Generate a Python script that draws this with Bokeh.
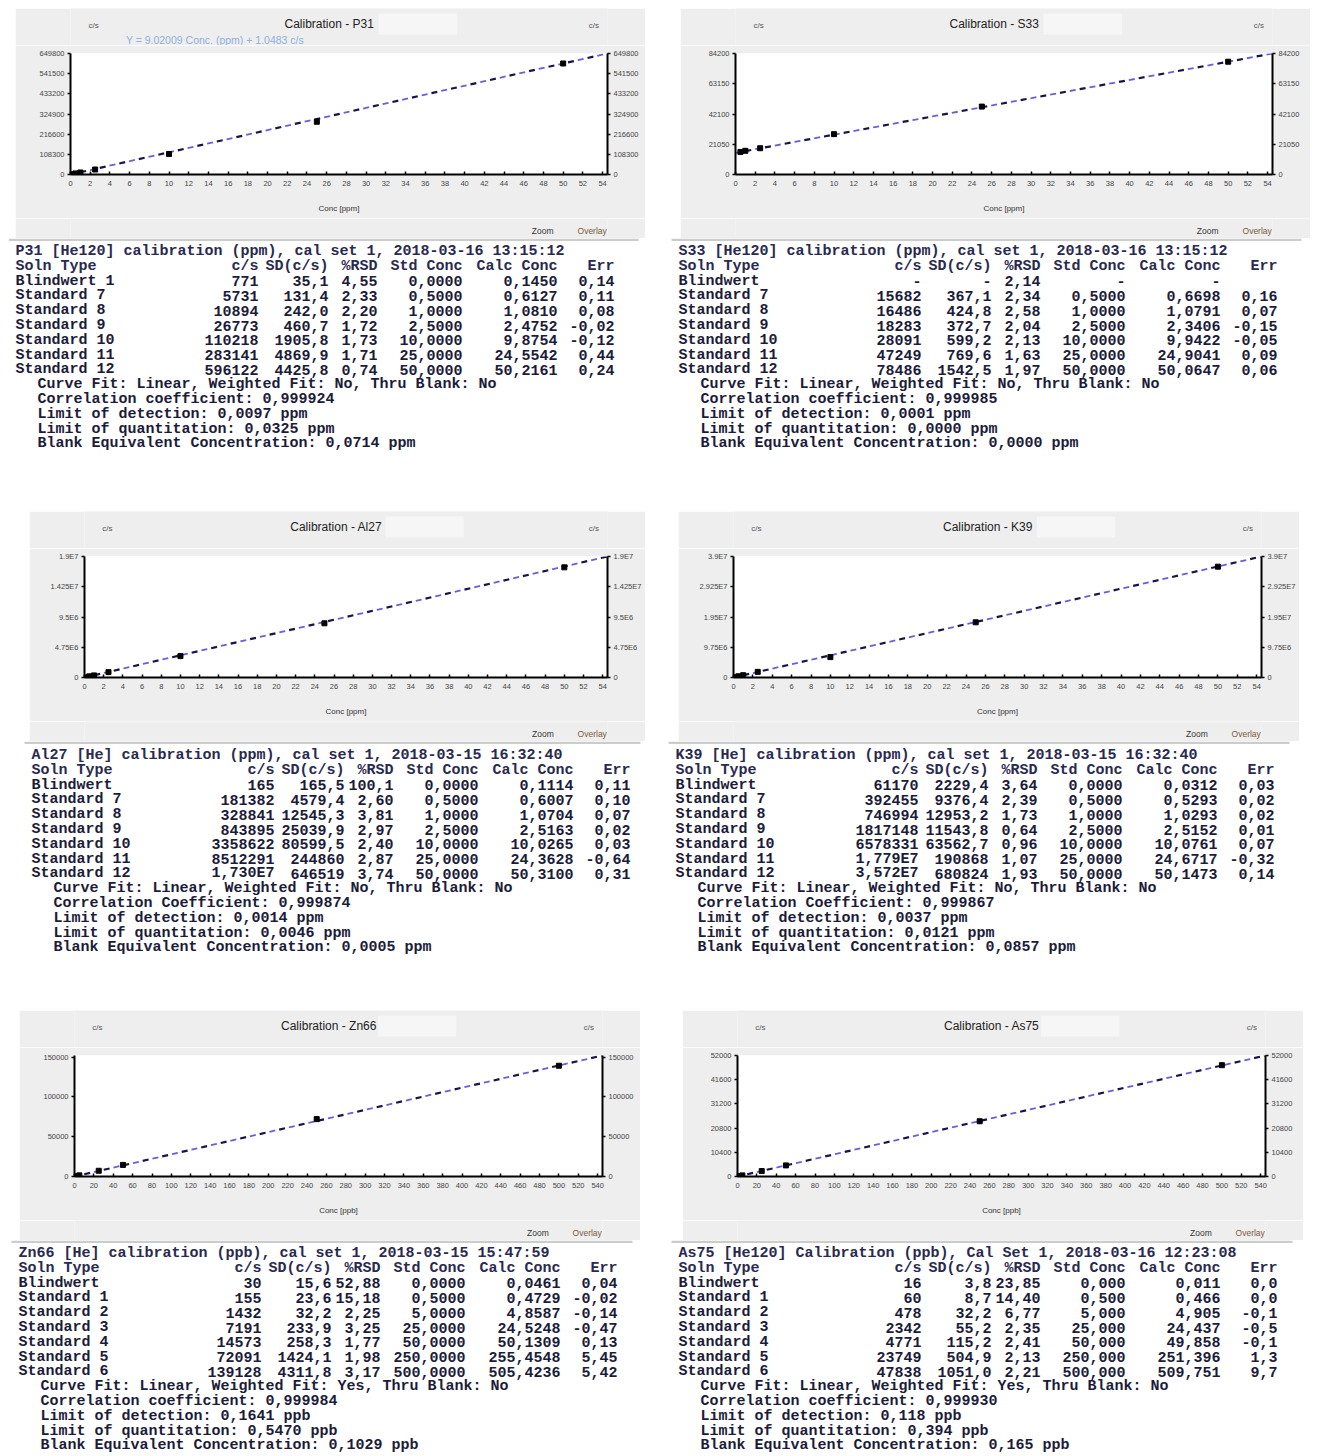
from bokeh.plotting import figure
from bokeh.models import Range1d, LinearAxis, FixedTicker, Spacer, BoxAnnotation
from bokeh.layouts import column, row
from bokeh.embed import file_html
from bokeh.resources import INLINE
from bokeh.core.properties import value

# ---------------- data ----------------
X_TICKS_PPM = list(range(0, 55, 2))
X_TICKS_PPB = list(range(0, 550, 20))
HEADER = ["Soln Type", "c/s", "SD(c/s)", "%RSD", "Std Conc", "Calc Conc", "Err"]

# P31
p31_conc = [0, 0.5, 1.0, 2.5, 10, 25, 50]
p31_cps = [771, 5731, 10894, 26773, 110218, 283141, 596122]
p31_fit_x = [0, 54.5]
p31_fit_y = [0, 649800]
p31_yticks = [0, 108300, 216600, 324900, 433200, 541500, 649800]
p31_ylabels = ["0", "108300", "216600", "324900", "433200", "541500", "649800"]
p31_head = "P31 [He120] calibration (ppm), cal set 1, 2018-03-16 13:15:12"
p31_types = ["Blindwert 1", "Standard 7", "Standard 8", "Standard 9", "Standard 10", "Standard 11", "Standard 12"]
p31_cps_t = ["771", "5731", "10894", "26773", "110218", "283141", "596122"]
p31_sd = ["35,1", "131,4", "242,0", "460,7", "1905,8", "4869,9", "4425,8"]
p31_rsd = ["4,55", "2,33", "2,20", "1,72", "1,73", "1,71", "0,74"]
p31_std = ["0,0000", "0,5000", "1,0000", "2,5000", "10,0000", "25,0000", "50,0000"]
p31_calc = ["0,1450", "0,6127", "1,0810", "2,4752", "9,8754", "24,5542", "50,2161"]
p31_err = ["0,14", "0,11", "0,08", "-0,02", "-0,12", "0,44", "0,24"]
p31_foot = ["Curve Fit: Linear, Weighted Fit: No, Thru Blank: No",
            "Correlation coefficient: 0,999924",
            "Limit of detection: 0,0097 ppm",
            "Limit of quantitation: 0,0325 ppm",
            "Blank Equivalent Concentration: 0,0714 ppm"]
p31_eq = "Y = 9.02009 Conc. (ppm) + 1.0483 c/s"

# S33
s33_conc = [0.5, 1.0, 2.5, 10, 25, 50]
s33_cps = [15682, 16486, 18283, 28091, 47249, 78486]
s33_fit_x = [0, 54.5]
s33_fit_y = [15048, 84200]
s33_yticks = [0, 21050, 42100, 63150, 84200]
s33_ylabels = ["0", "21050", "42100", "63150", "84200"]
s33_head = "S33 [He120] calibration (ppm), cal set 1, 2018-03-16 13:15:12"
s33_types = ["Blindwert", "Standard 7", "Standard 8", "Standard 9", "Standard 10", "Standard 11", "Standard 12"]
s33_cps_t = ["-", "15682", "16486", "18283", "28091", "47249", "78486"]
s33_sd = ["-", "367,1", "424,8", "372,7", "599,2", "769,6", "1542,5"]
s33_rsd = ["2,14", "2,34", "2,58", "2,04", "2,13", "1,63", "1,97"]
s33_std = ["-", "0,5000", "1,0000", "2,5000", "10,0000", "25,0000", "50,0000"]
s33_calc = ["-", "0,6698", "1,0791", "2,3406", "9,9422", "24,9041", "50,0647"]
s33_err = ["", "0,16", "0,07", "-0,15", "-0,05", "0,09", "0,06"]
s33_foot = ["Curve Fit: Linear, Weighted Fit: No, Thru Blank: No",
            "Correlation coefficient: 0,999985",
            "Limit of detection: 0,0001 ppm",
            "Limit of quantitation: 0,0000 ppm",
            "Blank Equivalent Concentration: 0,0000 ppm"]

# Al27
al27_conc = [0, 0.5, 1.0, 2.5, 10, 25, 50]
al27_cps = [165, 181382, 328841, 843895, 3358622, 8512291, 17300000]
al27_fit_x = [0, 54.5]
al27_fit_y = [0, 19000000]
al27_yticks = [0, 4750000, 9500000, 14250000, 19000000]
al27_ylabels = ["0", "4.75E6", "9.5E6", "1.425E7", "1.9E7"]
al27_head = "Al27 [He] calibration (ppm), cal set 1, 2018-03-15 16:32:40"
al27_types = ["Blindwert", "Standard 7", "Standard 8", "Standard 9", "Standard 10", "Standard 11", "Standard 12"]
al27_cps_t = ["165", "181382", "328841", "843895", "3358622", "8512291", "1,730E7"]
al27_sd = ["165,5", "4579,4", "12545,3", "25039,9", "80599,5", "244860", "646519"]
al27_rsd = ["100,1", "2,60", "3,81", "2,97", "2,40", "2,87", "3,74"]
al27_std = ["0,0000", "0,5000", "1,0000", "2,5000", "10,0000", "25,0000", "50,0000"]
al27_calc = ["0,1114", "0,6007", "1,0704", "2,5163", "10,0265", "24,3628", "50,3100"]
al27_err = ["0,11", "0,10", "0,07", "0,02", "0,03", "-0,64", "0,31"]
al27_foot = ["Curve Fit: Linear, Weighted Fit: No, Thru Blank: No",
             "Correlation Coefficient: 0,999874",
             "Limit of detection: 0,0014 ppm",
             "Limit of quantitation: 0,0046 ppm",
             "Blank Equivalent Concentration: 0,0005 ppm"]

# K39
k39_conc = [0, 0.5, 1.0, 2.5, 10, 25, 50]
k39_cps = [61170, 392455, 746994, 1817148, 6578331, 17790000, 35720000]
k39_fit_x = [0, 54.5]
k39_fit_y = [0, 39000000]
k39_yticks = [0, 9750000, 19500000, 29250000, 39000000]
k39_ylabels = ["0", "9.75E6", "1.95E7", "2.925E7", "3.9E7"]
k39_head = "K39 [He] calibration (ppm), cal set 1, 2018-03-15 16:32:40"
k39_types = ["Blindwert", "Standard 7", "Standard 8", "Standard 9", "Standard 10", "Standard 11", "Standard 12"]
k39_cps_t = ["61170", "392455", "746994", "1817148", "6578331", "1,779E7", "3,572E7"]
k39_sd = ["2229,4", "9376,4", "12953,2", "11543,8", "63562,7", "190868", "680824"]
k39_rsd = ["3,64", "2,39", "1,73", "0,64", "0,96", "1,07", "1,93"]
k39_std = ["0,0000", "0,5000", "1,0000", "2,5000", "10,0000", "25,0000", "50,0000"]
k39_calc = ["0,0312", "0,5293", "1,0293", "2,5152", "10,0761", "24,6717", "50,1473"]
k39_err = ["0,03", "0,02", "0,02", "0,01", "0,07", "-0,32", "0,14"]
k39_foot = ["Curve Fit: Linear, Weighted Fit: No, Thru Blank: No",
            "Correlation Coefficient: 0,999867",
            "Limit of detection: 0,0037 ppm",
            "Limit of quantitation: 0,0121 ppm",
            "Blank Equivalent Concentration: 0,0857 ppm"]

# Zn66
zn66_conc = [0, 0.5, 5, 25, 50, 250, 500]
zn66_cps = [30, 155, 1432, 7191, 14573, 72091, 139128]
zn66_fit_x = [0, 545]
zn66_fit_y = [0, 152000]
zn66_yticks = [0, 50000, 100000, 150000]
zn66_ylabels = ["0", "50000", "100000", "150000"]
zn66_head = "Zn66 [He] calibration (ppb), cal set 1, 2018-03-15 15:47:59"
zn66_types = ["Blindwert", "Standard 1", "Standard 2", "Standard 3", "Standard 4", "Standard 5", "Standard 6"]
zn66_cps_t = ["30", "155", "1432", "7191", "14573", "72091", "139128"]
zn66_sd = ["15,6", "23,6", "32,2", "233,9", "258,3", "1424,1", "4311,8"]
zn66_rsd = ["52,88", "15,18", "2,25", "3,25", "1,77", "1,98", "3,17"]
zn66_std = ["0,0000", "0,5000", "5,0000", "25,0000", "50,0000", "250,0000", "500,0000"]
zn66_calc = ["0,0461", "0,4729", "4,8587", "24,5248", "50,1309", "255,4548", "505,4236"]
zn66_err = ["0,04", "-0,02", "-0,14", "-0,47", "0,13", "5,45", "5,42"]
zn66_foot = ["Curve Fit: Linear, Weighted Fit: Yes, Thru Blank: No",
             "Correlation coefficient: 0,999984",
             "Limit of detection: 0,1641 ppb",
             "Limit of quantitation: 0,5470 ppb",
             "Blank Equivalent Concentration: 0,1029 ppb"]

# As75
as75_conc = [0, 0.5, 5, 25, 50, 250, 500]
as75_cps = [16, 60, 478, 2342, 4771, 23749, 47838]
as75_fit_x = [0, 545]
as75_fit_y = [0, 52000]
as75_yticks = [0, 10400, 20800, 31200, 41600, 52000]
as75_ylabels = ["0", "10400", "20800", "31200", "41600", "52000"]
as75_head = "As75 [He120] Calibration (ppb), Cal Set 1, 2018-03-16 12:23:08"
as75_types = ["Blindwert", "Standard 1", "Standard 2", "Standard 3", "Standard 4", "Standard 5", "Standard 6"]
as75_cps_t = ["16", "60", "478", "2342", "4771", "23749", "47838"]
as75_sd = ["3,8", "8,7", "32,2", "55,2", "115,2", "504,9", "1051,0"]
as75_rsd = ["23,85", "14,40", "6,77", "2,35", "2,41", "2,13", "2,21"]
as75_std = ["0,000", "0,500", "5,000", "25,000", "50,000", "250,000", "500,000"]
as75_calc = ["0,011", "0,466", "4,905", "24,437", "49,858", "251,396", "509,751"]
as75_err = ["0,0", "0,0", "-0,1", "-0,5", "-0,1", "1,3", "9,7"]
as75_foot = ["Curve Fit: Linear, Weighted Fit: Yes, Thru Blank: No",
             "Correlation coefficient: 0,999930",
             "Limit of detection: 0,118 ppb",
             "Limit of quantitation: 0,394 ppb",
             "Blank Equivalent Concentration: 0,165 ppb"]

# ---------------- styling ----------------
FRAME_BG = "#eeeeee"
SANS = "Liberation Sans"
MONO = "Liberation Mono"
HEAD_H = 37
CHART_H = 173
FOOT_H = 20
PANEL_H = HEAD_H + CHART_H + FOOT_H
BL, BR = 55, 38
COL_RIGHT = [243, 313, 362, 447, 542, 599]
PITCH = 14.8


def blank_fig(width, height, bg):
    p = figure(width=width, height=height, x_range=Range1d(0, width), y_range=Range1d(height, 0),
               toolbar_location=None, output_backend="svg", min_border=0,
               x_axis_type=None, y_axis_type=None, outline_line_color=None,
               background_fill_color=bg, border_fill_color=bg)
    p.grid.visible = False
    return p


def style_axis(ax, ticks, labels=None, is_x=False):
    ax.ticker = FixedTicker(ticks=ticks)
    if labels is not None:
        ax.major_label_overrides = {t: l for t, l in zip(ticks, labels)}
    ax.axis_line_color = "black"
    ax.axis_line_width = 2
    ax.major_tick_line_color = "black"
    ax.major_tick_line_width = 1.5
    ax.minor_tick_line_color = None
    if is_x:
        ax.major_tick_in = 3
        ax.major_tick_out = 0
        ax.major_label_standoff = 6
    else:
        ax.major_tick_in = 0
        ax.major_tick_out = 3
        ax.major_label_standoff = 3
    ax.major_label_text_font = SANS
    ax.major_label_text_font_size = "7.5px"
    ax.major_label_text_color = "#444444"


def sans_text(p, x, y, text, size, color, align="center"):
    p.text(x=[x], y=[y], text=[text], text_font=value(SANS), text_font_size=size,
           text_color=color, text_align=align, text_baseline="middle")


def make_panel(name, unit, conc, cps, fit_x, fit_y, x_ticks, y_ticks, y_labels, width, eq=None):
    plot_w = width - BL - BR
    tcx = BL + plot_w / 2 - 20
    head = blank_fig(width, HEAD_H, FRAME_BG)
    head.add_layout(BoxAnnotation(left=tcx + 58, right=tcx + 150, top=5, bottom=26,
                                  fill_color="#f6f6f6", fill_alpha=1, line_color=None))
    sans_text(head, tcx, 15, f"Calibration - {name}", "12px", "#222222")
    sans_text(head, BL - 28, 17, "c/s", "8px", "#555555")
    sans_text(head, width - BR + 22, 17, "c/s", "8px", "#555555")
    if eq:
        sans_text(head, BL + 10, 31, eq, "10.5px", "#8fb0e0", align="left")

    p = figure(width=width, height=CHART_H,
               x_range=Range1d(fit_x[0], fit_x[-1]), y_range=Range1d(0, fit_y[-1]),
               toolbar_location=None, output_backend="svg",
               min_border_left=BL, min_border_right=BR, min_border_top=8, min_border_bottom=44,
               background_fill_color="white", border_fill_color=FRAME_BG,
               outline_line_color=None)
    p.grid.visible = False
    style_axis(p.xaxis[0], x_ticks, None, is_x=True)
    p.xaxis.axis_label = f"Conc [{unit}]"
    p.xaxis.axis_label_text_font = SANS
    p.xaxis.axis_label_text_font_size = "8px"
    p.xaxis.axis_label_text_font_style = "normal"
    p.xaxis.axis_label_text_color = "#333333"
    p.xaxis.axis_label_standoff = 15
    style_axis(p.yaxis[0], y_ticks, y_labels)
    right = LinearAxis()
    style_axis(right, y_ticks, y_labels)
    p.add_layout(right, "right")

    p.line(fit_x, fit_y, line_color="#6b5de0", line_width=1.8, line_dash="6 14")
    p.line(fit_x, fit_y, line_color="#15154a", line_width=2.2, line_dash="6 14", line_dash_offset=10)
    p.scatter(conc, cps, marker="square", size=5, color="black")

    foot = blank_fig(width, FOOT_H, FRAME_BG)
    sans_text(foot, width - BR - 38, 12, "Zoom", "8.5px", "#333333")
    sans_text(foot, width - BR + 20, 12, "Overlay", "8.5px", "#7a5a3a")
    return column(head, p, foot)


def make_table(width, height, x0, y0, rule_w, head, types, cps_t, sd, rsd, std, calc, err, foot):
    p = blank_fig(width, height, "white")
    p.add_layout(BoxAnnotation(left=x0 - 7, right=x0 - 7 + rule_w, top=0, bottom=2.5,
                               fill_color="#cccccc", fill_alpha=1, line_color=None))
    kw = dict(text_font=value(MONO), text_font_size="15px", text_baseline="middle",
              text_font_style="bold")
    dark = "#1c1c3a"
    p.text(x=[x0], y=[y0], text=[head], text_align="left", text_color="#2a2a50", **kw)
    p.text(x=[x0], y=[y0 + PITCH], text=[HEADER[0]], text_align="left", text_color="#2a2a50", **kw)
    p.text(x=[x0 + c for c in COL_RIGHT], y=[y0 + PITCH] * 6, text=HEADER[1:],
           text_align="right", text_color="#2a2a50", **kw)
    ys = [y0 + (2 + i) * PITCH for i in range(len(types))]
    p.text(x=[x0] * len(types), y=ys, text=types, text_align="left", text_color=dark, **kw)
    for c, col in zip(COL_RIGHT, [cps_t, sd, rsd, std, calc, err]):
        p.text(x=[x0 + c] * len(col), y=ys, text=col, text_align="right", text_color=dark, **kw)
    yf = [y0 + (2 + len(types) + j) * PITCH for j in range(len(foot))]
    p.text(x=[x0 + 22] * len(foot), y=yf, text=foot, text_align="left", text_color=dark, **kw)
    return p


c_p31 = make_panel("P31", "ppm", p31_conc, p31_cps, p31_fit_x, p31_fit_y, X_TICKS_PPM, p31_yticks, p31_ylabels, 630, eq=p31_eq)
c_s33 = make_panel("S33", "ppm", s33_conc, s33_cps, s33_fit_x, s33_fit_y, X_TICKS_PPM, s33_yticks, s33_ylabels, 630)
c_al27 = make_panel("Al27", "ppm", al27_conc, al27_cps, al27_fit_x, al27_fit_y, X_TICKS_PPM, al27_yticks, al27_ylabels, 616)
c_k39 = make_panel("K39", "ppm", k39_conc, k39_cps, k39_fit_x, k39_fit_y, X_TICKS_PPM, k39_yticks, k39_ylabels, 621)
c_zn66 = make_panel("Zn66", "ppb", zn66_conc, zn66_cps, zn66_fit_x, zn66_fit_y, X_TICKS_PPB, zn66_yticks, zn66_ylabels, 621)
c_as75 = make_panel("As75", "ppb", as75_conc, as75_cps, as75_fit_x, as75_fit_y, X_TICKS_PPB, as75_yticks, as75_ylabels, 621)

TW = 656
t_p31 = make_table(TW, 273, 7, 13, 630, p31_head, p31_types, p31_cps_t, p31_sd, p31_rsd, p31_std, p31_calc, p31_err, p31_foot)
t_s33 = make_table(TW, 273, 14, 13, 630, s33_head, s33_types, s33_cps_t, s33_sd, s33_rsd, s33_std, s33_calc, s33_err, s33_foot)
t_al27 = make_table(TW, 269, 23, 14, 616, al27_head, al27_types, al27_cps_t, al27_sd, al27_rsd, al27_std, al27_calc, al27_err, al27_foot)
t_k39 = make_table(TW, 269, 11, 14, 621, k39_head, k39_types, k39_cps_t, k39_sd, k39_rsd, k39_std, k39_calc, k39_err, k39_foot)
t_zn66 = make_table(TW, 214, 10, 13, 621, zn66_head, zn66_types, zn66_cps_t, zn66_sd, zn66_rsd, zn66_std, zn66_calc, zn66_err, zn66_foot)
t_as75 = make_table(TW, 214, 14, 13, 621, as75_head, as75_types, as75_cps_t, as75_sd, as75_rsd, as75_std, as75_calc, as75_err, as75_foot)

M = 8
layout = column(
    Spacer(width=10, height=M),
    row(Spacer(width=M + 7, height=PANEL_H), c_p31, Spacer(width=35, height=PANEL_H), c_s33),
    row(Spacer(width=M, height=10), t_p31, t_s33),
    row(Spacer(width=M + 21, height=PANEL_H), c_al27, Spacer(width=33, height=PANEL_H), c_k39),
    row(Spacer(width=M, height=10), t_al27, t_k39),
    row(Spacer(width=M + 11, height=PANEL_H), c_zn66, Spacer(width=42, height=PANEL_H), c_as75),
    row(Spacer(width=M, height=10), t_zn66, t_as75),
)

open("out.html", "w").write(file_html(layout, INLINE))
